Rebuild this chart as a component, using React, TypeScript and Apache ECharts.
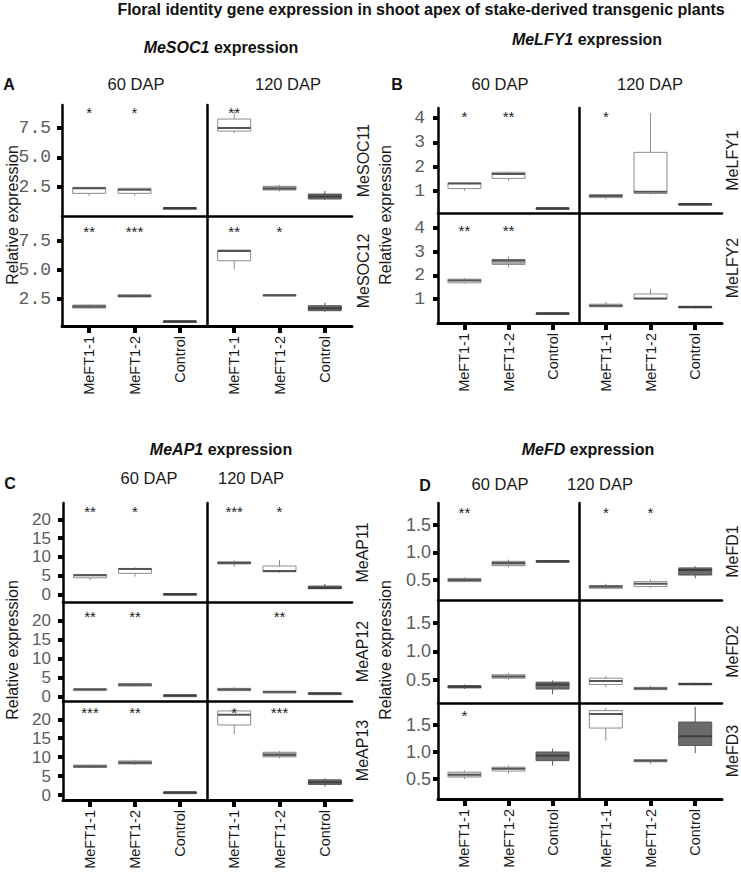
import React, { useEffect, useRef } from "react";
import * as echarts from "echarts";

// ---------------- DATA ----------------
const mainTitle =
  "Floral identity gene expression in shoot apex of stake-derived transgenic plants";
const categories = ["MeFT1-1", "MeFT1-2", "Control"];
const stages = ["60 DAP", "120 DAP"];

// box stats per category: [min, Q1, median, Q3, max]
// Panel A – MeSOC1
const socRows = ["MeSOC11", "MeSOC12"];
const socTicks = [2.5, 5, 7.5];
const soc11_60 = [[1.72, 1.96, 2.39, 2.47, 2.5], [1.76, 1.96, 2.27, 2.39, 2.42], [0.68, 0.69, 0.72, 0.74, 0.75]];
const soc11_120 = [[7.07, 7.24, 7.5, 8.26, 9.02], [2.12, 2.24, 2.37, 2.56, 2.67], [1.4, 1.48, 1.7, 1.9, 2.16]];
const soc12_60 = [[1.68, 1.72, 1.85, 1.98, 2.02], [2.62, 2.67, 2.76, 2.87, 2.9], [0.52, 0.55, 0.58, 0.6, 0.62]];
const soc12_120 = [[5.06, 5.8, 6.63, 6.72, 6.75], [2.72, 2.76, 2.82, 2.88, 2.92], [1.4, 1.49, 1.7, 1.92, 2.18]];
const soc11_60_sig = ["*", "*", ""];
const soc11_120_sig = ["**", "", ""];
const soc12_60_sig = ["**", "***", ""];
const soc12_120_sig = ["**", "*", ""];

// Panel B – MeLFY1
const lfyRows = ["MeLFY1", "MeLFY2"];
const lfyTicks = [1, 2, 3, 4];
const lfy1_60 = [[1.0, 1.1, 1.31, 1.33, 1.35], [1.42, 1.52, 1.7, 1.77, 1.8], [0.27, 0.28, 0.29, 0.31, 0.32]];
const lfy1_120 = [[0.67, 0.73, 0.8, 0.86, 0.88], [0.86, 0.9, 0.97, 2.59, 4.2], [0.45, 0.46, 0.47, 0.48, 0.49]];
const lfy2_60 = [[1.65, 1.69, 1.79, 1.84, 1.9], [2.34, 2.46, 2.63, 2.67, 2.78], [0.39, 0.4, 0.41, 0.42, 0.43]];
const lfy2_120 = [[0.66, 0.68, 0.72, 0.79, 0.89], [0.98, 1.01, 1.03, 1.22, 1.44], [0.62, 0.64, 0.67, 0.7, 0.72]];
const lfy1_60_sig = ["*", "**", ""];
const lfy1_120_sig = ["*", "", ""];
const lfy2_60_sig = ["**", "**", ""];
const lfy2_120_sig = ["", "", ""];

// Panel C – MeAP1
const apRows = ["MeAP11", "MeAP12", "MeAP13"];
const apTicks = [0, 5, 10, 15, 20];
const ap11_60 = [[3.8, 4.4, 5.1, 5.3, 5.4], [4.7, 5.6, 6.75, 6.9, 7.2], [0.0, 0.05, 0.1, 0.15, 0.2]];
const ap11_120 = [[7.3, 8.1, 8.35, 8.7, 9.1], [5.7, 6.0, 6.2, 7.55, 9.15], [1.4, 1.5, 1.7, 2.2, 2.75]];
const ap12_60 = [[1.8, 1.85, 1.95, 2.0, 2.05], [2.7, 2.8, 3.17, 3.5, 3.6], [0.3, 0.33, 0.37, 0.4, 0.42]];
const ap12_120 = [[1.4, 1.6, 1.9, 2.2, 2.5], [1.2, 1.25, 1.3, 1.35, 1.4], [0.8, 0.85, 0.9, 0.95, 1.0]];
const ap13_60 = [[7.1, 7.3, 7.55, 7.9, 8.0], [7.9, 8.2, 8.5, 9.0, 9.3], [0.6, 0.65, 0.7, 0.75, 0.8]];
const ap13_120 = [[16.1, 18.5, 21.2, 22.2, 22.3], [9.7, 10.1, 10.6, 11.3, 11.6], [2.2, 2.8, 3.4, 4.0, 4.4]];
const ap11_60_sig = ["**", "*", ""];
const ap11_120_sig = ["***", "*", ""];
const ap12_60_sig = ["**", "**", ""];
const ap12_120_sig = ["", "**", ""];
const ap13_60_sig = ["***", "**", ""];
const ap13_120_sig = ["*", "***", ""];

// Panel D – MeFD
const fdRows = ["MeFD1", "MeFD2", "MeFD3"];
const fdTicks = [0.5, 1.0, 1.5];
const fd1_60 = [[0.46, 0.47, 0.5, 0.53, 0.55], [0.73, 0.76, 0.81, 0.84, 0.87], [0.82, 0.83, 0.84, 0.85, 0.86]];
const fd1_120 = [[0.34, 0.35, 0.38, 0.4, 0.43], [0.36, 0.38, 0.43, 0.47, 0.51], [0.53, 0.59, 0.68, 0.72, 0.75]];
const fd2_60 = [[0.34, 0.36, 0.38, 0.4, 0.42], [0.5, 0.53, 0.56, 0.59, 0.62], [0.25, 0.34, 0.42, 0.46, 0.49]];
const fd2_120 = [[0.37, 0.42, 0.48, 0.53, 0.57], [0.32, 0.33, 0.35, 0.37, 0.4], [0.41, 0.42, 0.43, 0.44, 0.45]];
const fd3_60 = [[0.5, 0.54, 0.58, 0.63, 0.66], [0.6, 0.65, 0.69, 0.72, 0.75], [0.75, 0.84, 0.93, 1.0, 1.06]];
const fd3_120 = [[1.21, 1.44, 1.7, 1.76, 1.81], [0.78, 0.82, 0.84, 0.86, 0.87], [0.98, 1.12, 1.29, 1.55, 1.83]];
const fd1_60_sig = ["**", "", ""];
const fd1_120_sig = ["*", "*", ""];
const fd2_60_sig = ["", "", ""];
const fd2_120_sig = ["", "", ""];
const fd3_60_sig = ["*", "", ""];
const fd3_120_sig = ["", "", ""];

// ---------------- STYLES / LAYOUT ----------------
const shade: Record<string, string> = { w: "#ffffff", l: "#dcdcdc", g: "#a9a9a9", d: "#6b6b6b" };

const panels = [
  {
    letter: "A", gene: "MeSOC1", rows: socRows, ticks: socTicks, dec: 1,
    stats: [[soc11_60, soc11_120], [soc12_60, soc12_120]],
    sig: [[soc11_60_sig, soc11_120_sig], [soc12_60_sig, soc12_120_sig]],
    fills: [["wwd", "wgd"], ["ggd", "wgd"]],
    xs: [62, 207, 352], ys: [105, 216, 326],
    ranges: [[0.04, 9.45], [0.17, 9.66]],
    labelFont: "Liberation Mono", labelSize: 18, labelMargin: 11,
    stageX: [136, 288], stageY: 84, letterPos: [9, 84], titlePos: [221, 47],
    stripX: 363, yTitle: [12, 215], starOff: [4, 12],
  },
  {
    letter: "B", gene: "MeLFY1", rows: lfyRows, ticks: lfyTicks, dec: 0,
    stats: [[lfy1_60, lfy1_120], [lfy2_60, lfy2_120]],
    sig: [[lfy1_60_sig, lfy1_120_sig], [lfy2_60_sig, lfy2_120_sig]],
    fills: [["wwd", "wwd"], ["wgd", "wwd"]],
    xs: [438, 579, 722], ys: [108, 213, 323],
    ranges: [[0.1, 4.41], [0.0, 4.62]],
    labelFont: "Liberation Mono", labelSize: 18, labelMargin: 13,
    stageX: [500, 650], stageY: 84, letterPos: [397, 84], titlePos: [587, 39],
    stripX: 732, yTitle: [385, 215], starOff: [5, 14],
  },
  {
    letter: "C", gene: "MeAP1", rows: apRows, ticks: apTicks, dec: 0,
    stats: [[ap11_60, ap11_120], [ap12_60, ap12_120], [ap13_60, ap13_120]],
    sig: [[ap11_60_sig, ap11_120_sig], [ap12_60_sig, ap12_120_sig], [ap13_60_sig, ap13_120_sig]],
    fills: [["wwd", "gwd"], ["ggd", "ggd"], ["ggd", "wgd"]],
    xs: [63, 207, 352], ys: [503, 602, 701, 800],
    ranges: [[-2.05, 24.35], [-1.14, 25.0], [-1.32, 24.83]],
    labelFont: "Liberation Sans", labelSize: 17, labelMargin: 12,
    stageX: [149, 251], stageY: 478, letterPos: [10, 483], titlePos: [221, 449],
    stripX: 362, yTitle: [12, 650], starOff: [5, 11, 8],
  },
  {
    letter: "D", gene: "MeFD", rows: fdRows, ticks: fdTicks, dec: 1,
    stats: [[fd1_60, fd1_120], [fd2_60, fd2_120], [fd3_60, fd3_120]],
    sig: [[fd1_60_sig, fd1_120_sig], [fd2_60_sig, fd2_120_sig], [fd3_60_sig, fd3_120_sig]],
    fills: [["ggd", "gwd"], ["dld", "wgd"], ["lwd", "wwd"]],
    xs: [438, 579, 722], ys: [503, 600, 703, 799],
    ranges: [[0.136, 1.9], [0.096, 1.896], [0.136, 1.9]],
    labelFont: "Liberation Sans", labelSize: 18, labelMargin: 7,
    stageX: [500, 600], stageY: 484, letterPos: [425, 485], titlePos: [588, 449],
    stripX: 732, yTitle: [385, 650], starOff: [6, 9, 9],
  },
];

const SANS = "Liberation Sans, Arial, sans-serif";
const BOX_HALF = 16.5;

function buildOption() {
  const grid: any[] = [];
  const xAxis: any[] = [];
  const yAxis: any[] = [];
  const series: any[] = [];
  const graphic: any[] = [];

  graphic.push({
    type: "text", x: 421, y: 9,
    style: { text: mainTitle, align: "center", verticalAlign: "middle", fontSize: 16, fontWeight: "bold", fontFamily: SANS, fill: "#111" },
  });

  panels.forEach((p) => {
    const nRows = p.rows.length;
    p.rows.forEach((rowName, r) => {
      [0, 1].forEach((c) => {
        const idx = grid.length;
        const left = p.xs[c];
        const right = p.xs[c + 1];
        const top = p.ys[r];
        const bottom = p.ys[r + 1];
        const [ymin, ymax] = p.ranges[r];
        const isBottom = r === nRows - 1;
        grid.push({ left, top, width: right - left, height: bottom - top });
        xAxis.push({
          gridIndex: idx, type: "value", min: 0.4, max: 3.6,
          axisLine: { show: true, onZero: false, lineStyle: { color: "#000", width: isBottom ? 3 : 2.5 } },
          axisTick: { show: isBottom, customValues: [1, 2, 3], length: 7, lineStyle: { color: "#000", width: 4 } },
          axisLabel: {
            show: isBottom, customValues: [1, 2, 3], rotate: 90, margin: 10,
            formatter: (v: number) => categories[Math.round(v) - 1] || "",
            fontSize: 14.5, fontFamily: SANS, color: "#1a1a1a",
          },
          splitLine: { show: false },
        });
        yAxis.push({
          gridIndex: idx, type: "value", min: ymin, max: ymax,
          axisLine: { show: true, onZero: false, lineStyle: { color: "#000", width: 2.5 } },
          axisTick: { show: c === 0, customValues: p.ticks, length: 5, lineStyle: { color: "#000", width: 4 } },
          axisLabel: {
            show: c === 0, customValues: p.ticks, margin: p.labelMargin,
            formatter: (v: number) => v.toFixed(p.dec),
            fontSize: p.labelSize, fontFamily: p.labelFont, color: "#5c5c5c",
          },
          splitLine: { show: false },
        });
        const stats = p.stats[r][c];
        const sig = p.sig[r][c];
        const fills = p.fills[r][c];
        const starOff = p.starOff[r];
        series.push({
          type: "custom",
          xAxisIndex: idx,
          yAxisIndex: idx,
          data: stats.map((s, i) => [i + 1, ...s]),
          encode: { x: 0, y: [1, 2, 3, 4, 5] },
          renderItem: (params: any, api: any) => {
            const i = params.dataIndex;
            const x = api.value(0);
            const pMin = api.coord([x, api.value(1)]);
            const pQ1 = api.coord([x, api.value(2)]);
            const pMed = api.coord([x, api.value(3)]);
            const pQ3 = api.coord([x, api.value(4)]);
            const pMax = api.coord([x, api.value(5)]);
            const px = pMed[0];
            const code = fills[i];
            const dark = code === "d";
            const stroke = dark ? "#555" : "#8c8c8c";
            const children: any[] = [
              { type: "line", shape: { x1: px, y1: pMax[1], x2: px, y2: pQ3[1] }, style: { stroke, lineWidth: 1 } },
              { type: "line", shape: { x1: px, y1: pQ1[1], x2: px, y2: pMin[1] }, style: { stroke, lineWidth: 1 } },
              {
                type: "rect",
                shape: { x: px - BOX_HALF, y: pQ3[1], width: BOX_HALF * 2, height: Math.max(pQ1[1] - pQ3[1], 1.5) },
                style: { fill: shade[code], stroke, lineWidth: 1 },
              },
              {
                type: "line",
                shape: { x1: px - BOX_HALF, y1: pMed[1], x2: px + BOX_HALF, y2: pMed[1] },
                style: { stroke: dark ? "#3f3f3f" : "#555", lineWidth: 2 },
              },
            ];
            if (sig[i]) {
              children.push({
                type: "text", x: px, y: params.coordSys.y + starOff + 3,
                style: { text: sig[i], align: "center", verticalAlign: "middle", fontSize: 15, fontFamily: SANS, fill: "#222" },
              });
            }
            return { type: "group", children };
          },
        });
      });
      // strip label on right
      const rc = (p.ys[r] + p.ys[r + 1]) / 2;
      graphic.push({
        type: "text", x: p.stripX, y: rc, rotation: Math.PI / 2,
        style: { text: rowName, align: "center", verticalAlign: "middle", fontSize: 16, fontFamily: SANS, fill: "#1a1a1a" },
      });
    });
    // stage labels
    stages.forEach((s, c) => {
      graphic.push({
        type: "text", x: p.stageX[c], y: p.stageY,
        style: { text: s, align: "center", verticalAlign: "middle", fontSize: 16.5, fontFamily: SANS, fill: "#1a1a1a" },
      });
    });
    // letter
    graphic.push({
      type: "text", x: p.letterPos[0], y: p.letterPos[1],
      style: { text: p.letter, align: "center", verticalAlign: "middle", fontSize: 16, fontWeight: "bold", fontFamily: SANS, fill: "#111" },
    });
    // panel title
    graphic.push({
      type: "text", x: p.titlePos[0], y: p.titlePos[1],
      style: {
        text: "{i|" + p.gene + "} expression",
        align: "center", verticalAlign: "middle",
        fontSize: 16, fontWeight: "bold", fontFamily: SANS, fill: "#111",
        rich: { i: { fontStyle: "italic", fontWeight: "bold", fontSize: 16, fontFamily: SANS, fill: "#111" } },
      },
    });
    // y axis title
    graphic.push({
      type: "text", x: p.yTitle[0], y: p.yTitle[1], rotation: Math.PI / 2,
      style: { text: "Relative expression", align: "center", verticalAlign: "middle", fontSize: 16, fontFamily: SANS, fill: "#1a1a1a" },
    });
  });

  return {
    animation: false,
    backgroundColor: "#ffffff",
    grid, xAxis, yAxis, series, graphic,
  };
}

export default function App() {
  const ref = useRef<HTMLDivElement>(null);
  useEffect(() => {
    document.body.style.margin = "0";
    if (!ref.current) return;
    const chart = echarts.init(ref.current, undefined, { renderer: "svg" });
    chart.setOption(buildOption() as any);
    return () => chart.dispose();
  }, []);
  return <div ref={ref} style={{ width: 741, height: 884 }} />;
}
